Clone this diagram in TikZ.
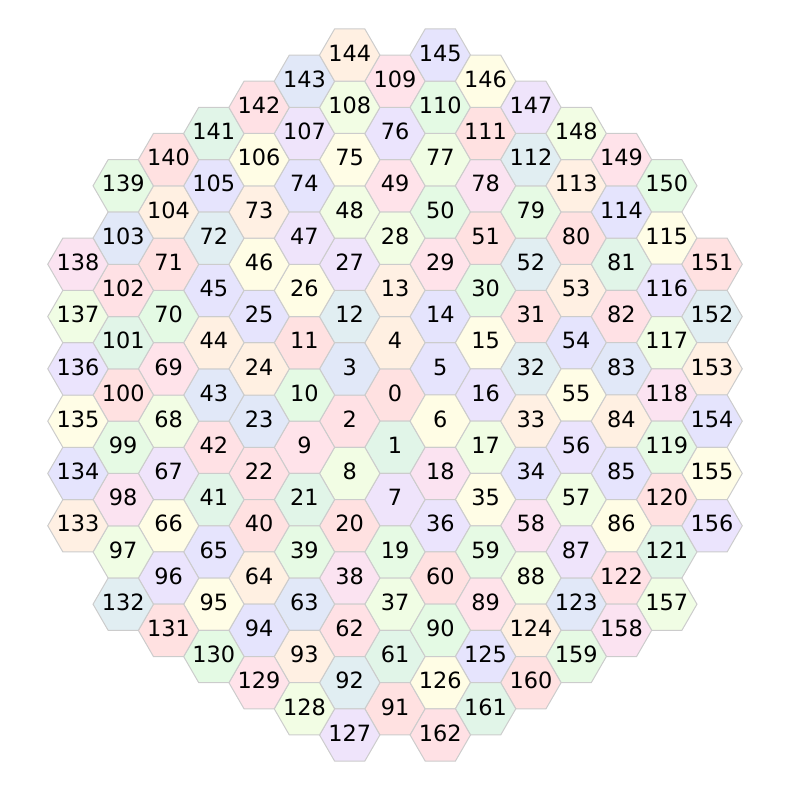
\documentclass[tikz,border=0pt]{standalone}
\usepackage{fontspec}
\setmainfont{DejaVu Sans}
\usepackage{tikz}
\usetikzlibrary{shapes.geometric}
\definecolor{hexborder}{RGB}{204,204,204}
% one pastel fill per value of n mod 20
\definecolor{hc0}{HTML}{FFE1E1}
\definecolor{hc1}{HTML}{E1F5E8}
\definecolor{hc2}{HTML}{FFE1E5}
\definecolor{hc3}{HTML}{E1E8F8}
\definecolor{hc4}{HTML}{FFF0E2}
\definecolor{hc5}{HTML}{E6E4FD}
\definecolor{hc6}{HTML}{FFFDE5}
\definecolor{hc7}{HTML}{EFE4FB}
\definecolor{hc8}{HTML}{F2FDE4}
\definecolor{hc9}{HTML}{FFE3EA}
\definecolor{hc10}{HTML}{E4FAE4}
\definecolor{hc11}{HTML}{FFE1E1}
\definecolor{hc12}{HTML}{E1EEF2}
\definecolor{hc13}{HTML}{FFF0E3}
\definecolor{hc14}{HTML}{E5E4FD}
\definecolor{hc15}{HTML}{FFFDE6}
\definecolor{hc16}{HTML}{EBE4FD}
\definecolor{hc17}{HTML}{F0FDE4}
\definecolor{hc18}{HTML}{FBE3F1}
\definecolor{hc19}{HTML}{E6FAE4}
\tikzset{
    hexcell/.style={
        regular polygon,
        regular polygon sides=6,
        draw=hexborder,
        line width=0.5pt,
        minimum size=30.2pt,
        inner sep=0pt,
        text height=8.2pt,
        text depth=2pt,
        font=\fontsize{11.2}{13}\selectfont
    }
}

\begin{document}
\begin{tikzpicture}[x=0.5pt, y=-0.5pt]

\useasboundingbox (0,0) rectangle (790,790);

% Center cell
\node[hexcell, fill=hc0] (cell0) at (395,395) {\makebox[0pt]{0}};

% Full rings 1 to 6, walked from the bottom cell
\foreach \k in {1,...,6}
  \foreach \s in {0,...,5}
    \foreach \j in {1,...,\k}{
      \pgfmathtruncatemacro{\n}{3*\k*(\k-1)+\s*\k+\j}
      \pgfmathtruncatemacro{\c}{mod(\n,20)}
      \pgfmathsetmacro{\px}{395+52.3*((\k-\j+1)*cos(90+60*\s)+(\j-1)*cos(150+60*\s))}
      \pgfmathsetmacro{\py}{395+52.3*((\k-\j+1)*sin(90+60*\s)+(\j-1)*sin(150+60*\s))}
      \node[hexcell, fill=hc\c] (cell\n) at (\px,\py) {\makebox[0pt]{\n}};
    }

% Ring 7 without its six corner cells
\foreach \s in {0,...,5}
  \foreach \j in {1,...,6}{
    \pgfmathtruncatemacro{\n}{126+6*\s+\j}
    \pgfmathtruncatemacro{\c}{mod(\n,20)}
    \pgfmathsetmacro{\px}{395+52.3*((7-\j)*cos(90+60*\s)+\j*cos(150+60*\s))}
    \pgfmathsetmacro{\py}{395+52.3*((7-\j)*sin(90+60*\s)+\j*sin(150+60*\s))}
    \node[hexcell, fill=hc\c] (cell\n) at (\px,\py) {\makebox[0pt]{\n}};
  }

\end{tikzpicture}
\end{document}
